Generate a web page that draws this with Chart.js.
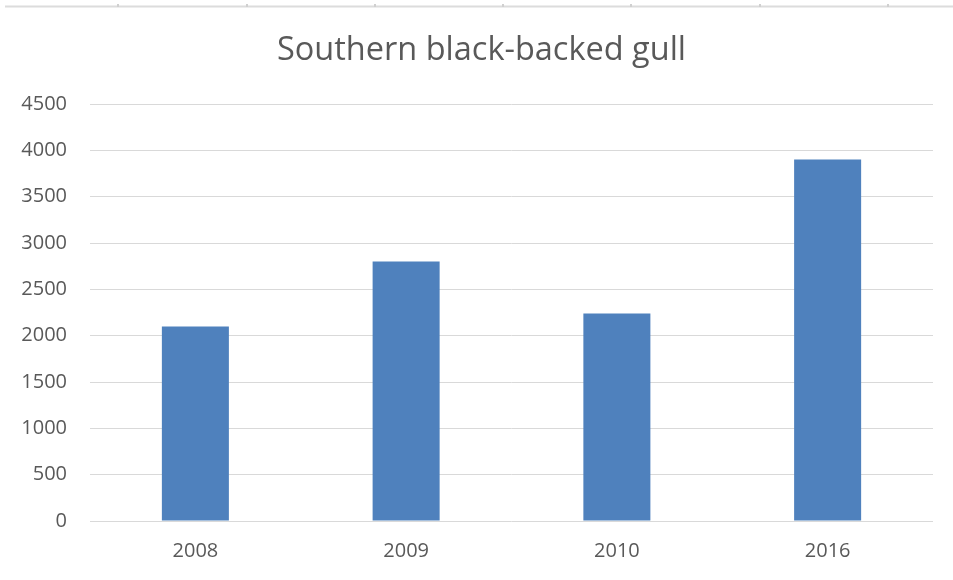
<!DOCTYPE html>
<html>
<head>
<meta charset="utf-8">
<script src="https://cdn.jsdelivr.net/npm/chart.js@4"></script>
<style>
html,body{margin:0;padding:0;background:#fff;}
#wrap{width:953px;height:580px;position:relative;}
</style>
</head>
<body>
<div id="wrap"><canvas id="c" width="953" height="580"></canvas></div>
<script>
const categories = ["2008", "2009", "2010", "2016"];
const counts = [2100, 2800, 2240, 3900];
const yTicks = [0, 500, 1000, 1500, 2000, 2500, 3000, 3500, 4000, 4500];
const titleText = "Southern black-backed gull";

const FONT = "'Open Sans', 'Liberation Sans', sans-serif";
const TXT = "#595959";

const topStrip = {
  id: 'topStrip',
  afterLayout(chart) {
    const t = chart.titleBlock;
    if (t) { t.left += 15; t.right += 15; }
  },
  beforeDraw(chart) {
    const ctx = chart.ctx;
    ctx.save();
    ctx.fillStyle = '#fff';
    ctx.fillRect(0, 0, chart.width, chart.height);
    ctx.strokeStyle = '#dcdcdc';
    ctx.lineWidth = 2;
    ctx.beginPath();
    ctx.moveTo(5, 6.5);
    ctx.lineTo(chart.width, 6.5);
    ctx.stroke();
    ctx.fillStyle = '#d0d0d0';
    [117, 246, 374, 502, 630, 759, 887].forEach(x => ctx.fillRect(x, 4, 2, 3));
    ctx.restore();
  }
};

new Chart(document.getElementById('c'), {
  type: 'bar',
  data: {
    labels: categories,
    datasets: [{
      label: titleText,
      data: counts,
      backgroundColor: '#4F81BD',
      borderWidth: 0,
      categoryPercentage: 1,
      barPercentage: 0.318
    }]
  },
  options: {
    responsive: false,
    animation: false,
    devicePixelRatio: 1,
    layout: { padding: { left: 0, right: 20, top: 0, bottom: 17 } },
    plugins: {
      legend: { display: false },
      tooltip: { enabled: false },
      title: {
        display: true,
        text: titleText,
        color: TXT,
        font: { family: FONT, size: 32.5, weight: 'normal', lineHeight: 1.2 },
        padding: { top: 31, bottom: 34 }
      }
    },
    scales: {
      x: {
        afterFit(scale) { scale.height = 42; },
        grid: { display: false, drawTicks: false },
        border: { display: false },
        ticks: { color: TXT, font: { family: FONT, size: 20 }, padding: 18 }
      },
      y: {
        min: 0,
        max: 4500,
        afterFit(scale) { scale.width = 90; },
        afterBuildTicks(scale) { scale.ticks = yTicks.map(v => ({ value: v })); },
        grid: { color: '#d9d9d9', lineWidth: 1, drawTicks: false, tickLength: 0 },
        border: { display: false },
        ticks: {
          color: TXT,
          font: { family: FONT, size: 20 },
          padding: 23,
          callback: (v) => String(v)
        }
      }
    }
  },
  plugins: [topStrip]
});
</script>
</body>
</html>
